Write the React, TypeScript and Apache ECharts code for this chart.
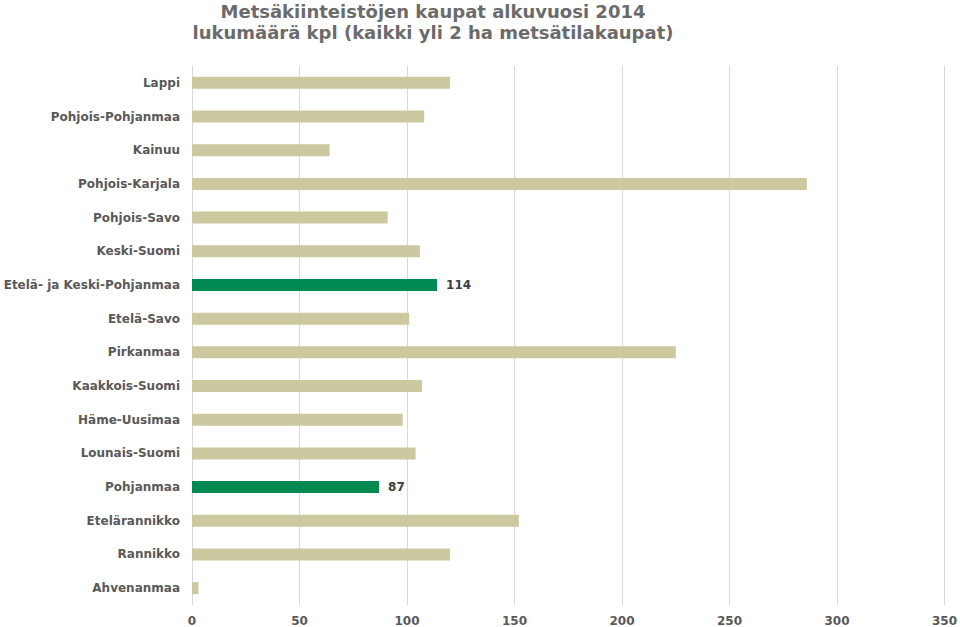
import React, { useEffect, useRef } from "react";
import * as echarts from "echarts";

const titleLines = [
  "Metsäkiinteistöjen kaupat alkuvuosi 2014",
  "lukumäärä kpl (kaikki yli 2 ha metsätilakaupat)",
];

const categories = [
  "Lappi",
  "Pohjois-Pohjanmaa",
  "Kainuu",
  "Pohjois-Karjala",
  "Pohjois-Savo",
  "Keski-Suomi",
  "Etelä- ja Keski-Pohjanmaa",
  "Etelä-Savo",
  "Pirkanmaa",
  "Kaakkois-Suomi",
  "Häme-Uusimaa",
  "Lounais-Suomi",
  "Pohjanmaa",
  "Etelärannikko",
  "Rannikko",
  "Ahvenanmaa",
];

const values = [120, 108, 64, 286, 91, 106, 114, 101, 225, 107, 98, 104, 87, 152, 120, 3];

const highlighted = ["Etelä- ja Keski-Pohjanmaa", "Pohjanmaa"];

const xTicks = { min: 0, max: 350, interval: 50 };

export default function App() {
  const ref = useRef<HTMLDivElement>(null);
  useEffect(() => {
    if (!ref.current) return;
    const chart = echarts.init(ref.current, undefined, { renderer: "svg" });
    const font = "'DejaVu Sans', 'Liberation Sans', sans-serif";
    chart.setOption({
      animation: false,
      backgroundColor: "#ffffff",
      title: {
        text: titleLines.join("\n"),
        left: 428,
        top: -4,
        textAlign: "center",
        textStyle: {
          fontFamily: font,
          fontSize: 18,
          fontWeight: "bold",
          color: "#6b6b6b",
          lineHeight: 21,
        },
      },
      grid: { left: 192, right: 11, top: 66, bottom: 22, containLabel: false },
      xAxis: {
        type: "value",
        min: xTicks.min,
        max: xTicks.max,
        interval: xTicks.interval,
        axisLine: { show: false },
        axisTick: { show: false },
        splitLine: { show: true, lineStyle: { color: "#d9d9d9", width: 1 } },
        axisLabel: {
          color: "#595959",
          fontFamily: font,
          fontSize: 12,
          fontWeight: "bold",
          margin: 10,
        },
      },
      yAxis: {
        type: "category",
        inverse: true,
        data: categories,
        axisLine: { show: false },
        axisTick: { show: false },
        axisLabel: {
          color: "#595959",
          fontFamily: font,
          fontSize: 12,
          fontWeight: "bold",
          margin: 12,
        },
      },
      series: [
        {
          type: "bar",
          barWidth: 12,
          data: categories.map((c, i) => {
            const hi = highlighted.includes(c);
            return {
              value: values[i],
              itemStyle: { color: hi ? "#008a52" : "#ccc9a0" },
              label: hi
                ? {
                    show: true,
                    position: "right",
                    distance: 9,
                    color: "#404040",
                    fontFamily: font,
                    fontSize: 12,
                    fontWeight: "bold",
                  }
                : { show: false },
            };
          }),
        },
      ],
    });
    return () => chart.dispose();
  }, []);
  return (
    <div
      ref={ref}
      style={{ position: "fixed", left: 0, top: 0, width: 960, height: 627 }}
    />
  );
}
